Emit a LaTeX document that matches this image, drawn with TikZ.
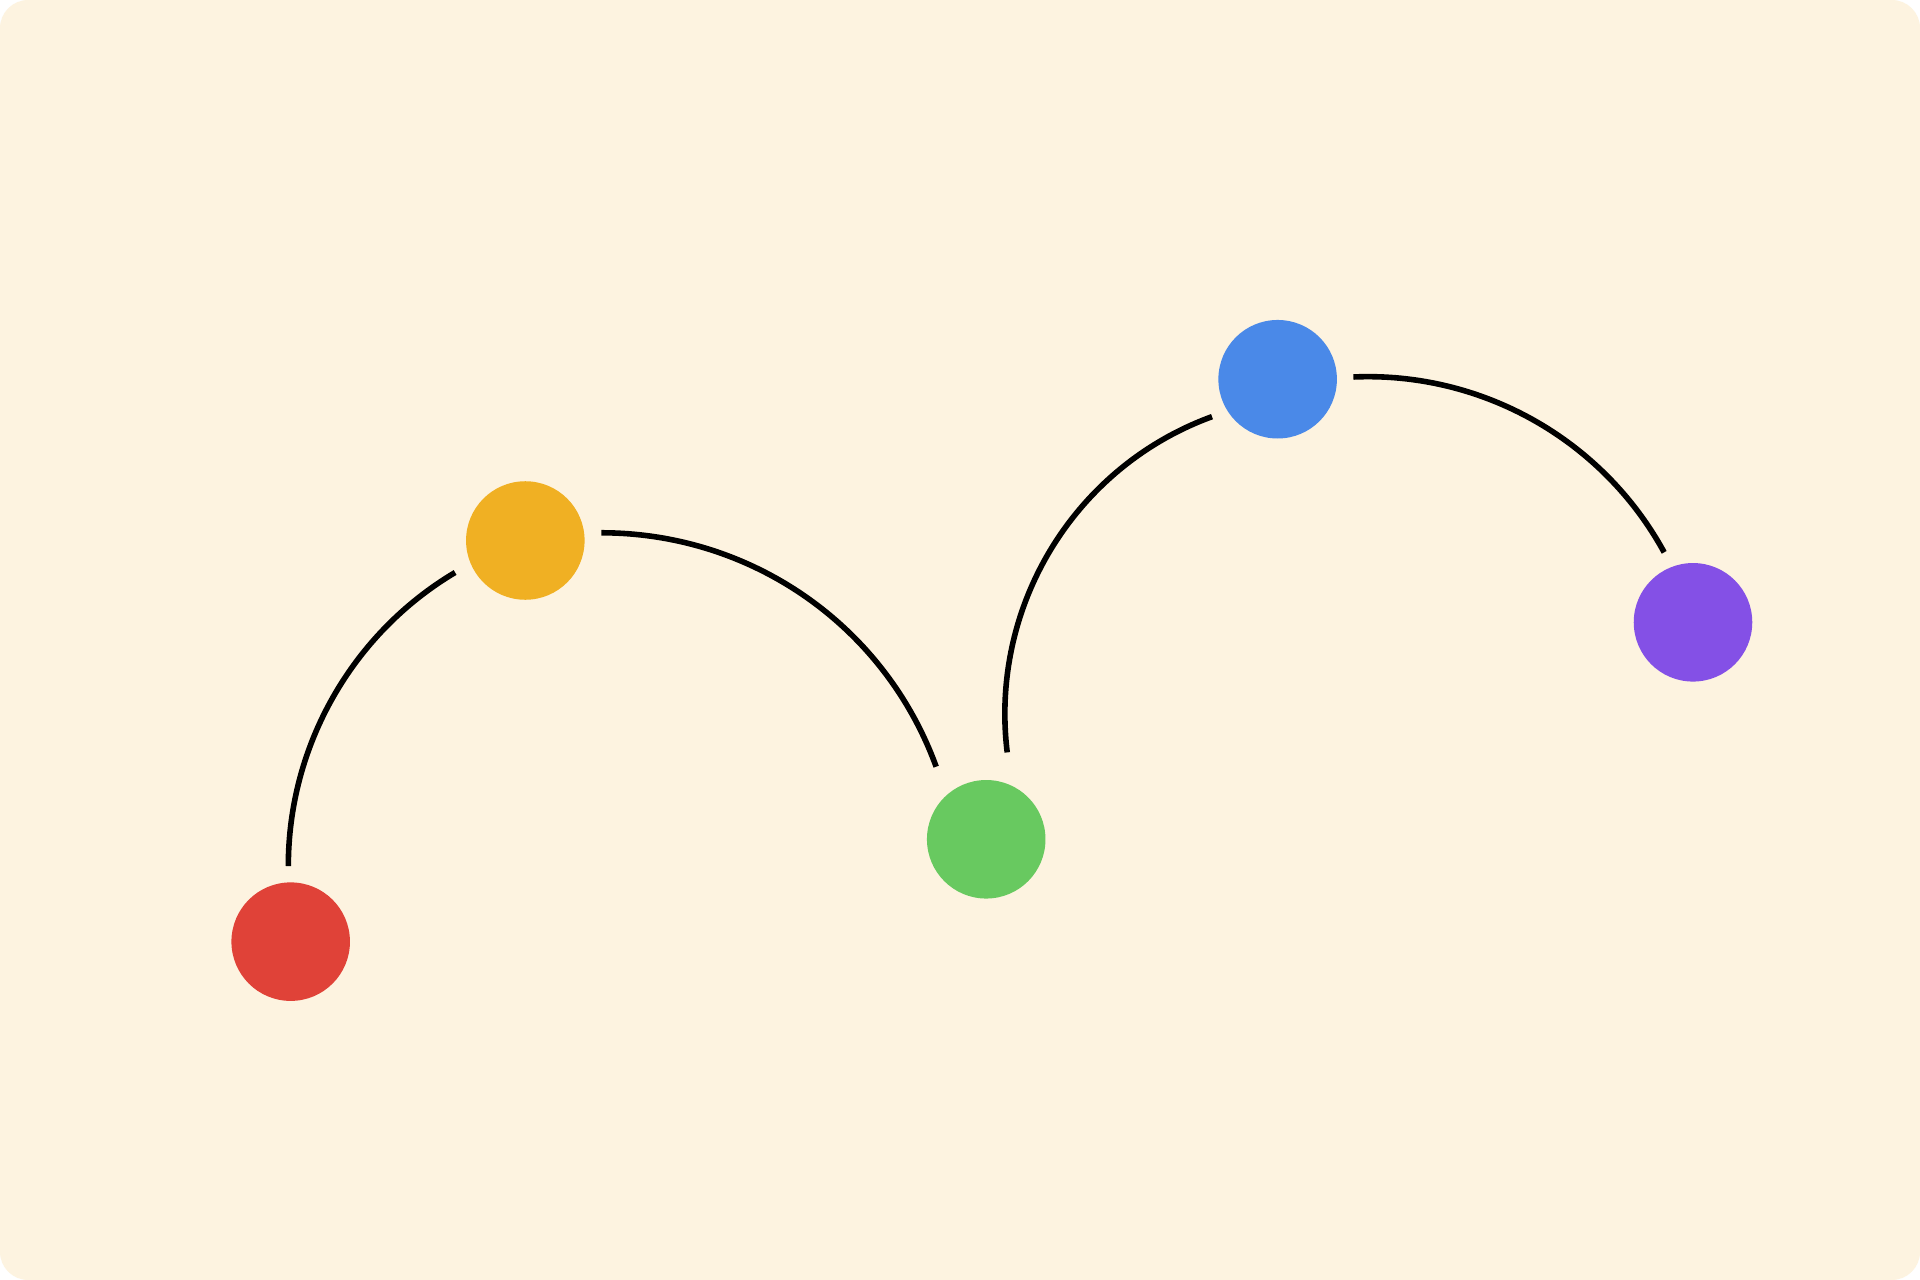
\documentclass[tikz,border=0pt]{standalone}
\usetikzlibrary{shapes,arrows}
\definecolor{cream}{HTML}{FDF3E0}
\definecolor{cred}{HTML}{E04238}
\definecolor{cyellow}{HTML}{F0B023}
\definecolor{cgreen}{HTML}{68C960}
\definecolor{cblue}{HTML}{4A89E8}
\definecolor{cpurple}{HTML}{8450E6}
\tikzstyle{dot} = [circle, minimum size=0.968cm, inner sep=0pt]
\tikzstyle{link} = [draw, line width=1.3pt, black]

\begin{document}
\begin{tikzpicture}
 \useasboundingbox (0,0) rectangle (15.68,10.453);
 \fill[white] (0,0) rectangle (15.68,10.453);
 \fill[cream, rounded corners=0.23cm] (0,0) rectangle (15.68,10.453);

\coordinate (R) at (2.374,2.763);
\coordinate (Y) at (4.290,6.039);
\coordinate (G) at (8.054,3.599);
\coordinate (B) at (10.434,7.356);
\coordinate (P) at (13.826,5.371);

\node[dot, name=red, fill=cred] at (R) {};
\node[dot, name=yellow, fill=cyellow] at (Y) {};
\node[dot, name=green, fill=cgreen] at (G) {};
\node[dot, name=blue, fill=cblue] at (B) {};
\node[dot, name=purple, fill=cpurple] at (P) {};

\draw[link] ([shift={(91.8:0.618)}]red.center)
  to[out=90,in=210.7,looseness=0.91] ([shift={(204.5:0.630)}]yellow.center);
\draw[link] ([shift={(5.8:0.624)}]yellow.center)
  to[out=0,in=110,looseness=0.94] ([shift={(124.6:0.720)}]green.center);
\draw[link] ([shift={(76.4:0.730)}]green.center)
  to[out=97,in=200,looseness=0.955] ([shift={(209.7:0.617)}]blue.center);
\draw[link] ([shift={(1.7:0.619)}]blue.center)
  to[out=2.5,in=118.6,looseness=0.92] ([shift={(112.4:0.618)}]purple.center);

\end{tikzpicture}
\end{document}
